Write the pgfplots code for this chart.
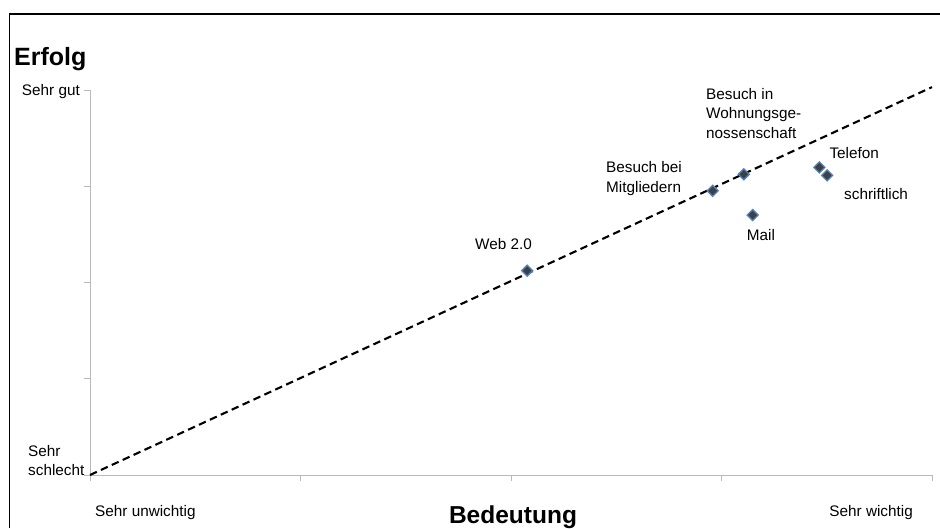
\documentclass[border=0pt]{standalone}
\usepackage{pgfplots}
\pgfplotsset{compat=1.18}
\usepackage{fontspec}
\setmainfont{Liberation Sans}
\definecolor{axgray}{RGB}{185,185,185}
\definecolor{mkfill}{RGB}{64,64,64}
\definecolor{mkedge}{RGB}{79,129,189}
\newcommand{\lbl}{\fontsize{15.3}{18}\selectfont}
\begin{document}
\begin{tikzpicture}[x=1pt,y=1pt]
\path[use as bounding box] (0,0) rectangle (940,528);
\draw[black, line width=1.5pt] (9.7,0) -- (9.7,514) -- (940,514);
\begin{axis}[
  at={(90pt,53pt)}, anchor=south west,
  scale only axis, width=842pt, height=385pt,
  xmin=0, xmax=4, ymin=0, ymax=4,
  axis lines=left,
  axis line style={axgray, line width=0.9pt, -},
  xtick={0,1,2,3,4}, ytick={0,1,2,3,4},
  xticklabels={}, yticklabels={},
  tick style={axgray, line width=0.9pt},
  major tick length=6pt,
  tick align=outside,
  clip=false,
]
\addplot[black, line width=2.1pt, dash pattern=on 7.5pt off 4.5pt] coordinates {(0,0) (4,4.03)};
\addplot[only marks, mark=square*, mark size=3.9pt,
  mark options={rotate=45, fill=mkfill, draw=mkedge, line width=1.3pt}]
  coordinates {
   (2.077,2.123)
   (2.958,2.953)
   (3.106,3.124)
   (3.148,2.701)
   (3.465,3.196)
   (3.502,3.113)
  };
\end{axis}
% titles
\node[anchor=base west, inner sep=0, font=\fontsize{25}{30}\selectfont\bfseries] at (14,462) {Erfolg};
\node[anchor=base, inner sep=0, font=\fontsize{24.5}{30}\selectfont\bfseries] at (513,5) {Bedeutung};
% axis end labels
\node[anchor=base east, inner sep=0, font=\lbl] at (80,432) {Sehr gut};
\node[anchor=base west, inner sep=0, font=\lbl] at (28,71.3) {Sehr};
\node[anchor=base west, inner sep=0, font=\lbl] at (28,52.5) {schlecht};
\node[anchor=base west, inner sep=0, font=\lbl] at (95,12) {Sehr unwichtig};
\node[anchor=base east, inner sep=0, font=\lbl] at (913,12) {Sehr wichtig};
% data labels
\node[anchor=base west, inner sep=0, font=\lbl] at (475,278) {Web 2.0};
\node[anchor=base west, inner sep=0, font=\lbl] at (606,355.3) {Besuch bei};
\node[anchor=base west, inner sep=0, font=\lbl] at (606,335.7) {Mitgliedern};
\node[anchor=base west, inner sep=0, font=\lbl] at (706,428.7) {Besuch in};
\node[anchor=base west, inner sep=0, font=\lbl] at (706,409) {Wohnungsge-};
\node[anchor=base west, inner sep=0, font=\lbl] at (706,389.7) {nossenschaft};
\node[anchor=base west, inner sep=0, font=\lbl] at (829.3,369.7) {Telefon};
\node[anchor=base west, inner sep=0, font=\lbl] at (844,328.7) {schriftlich};
\node[anchor=base west, inner sep=0, font=\lbl] at (746.7,287) {Mail};
\end{tikzpicture}
\end{document}
